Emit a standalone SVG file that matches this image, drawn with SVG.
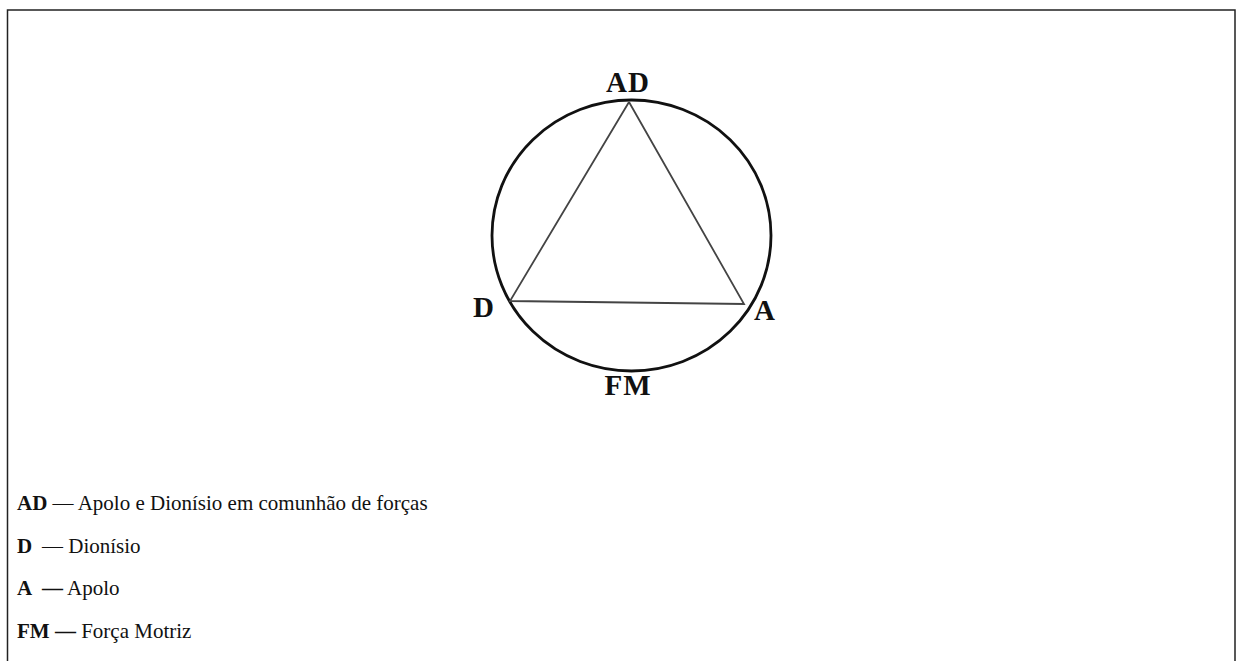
<svg xmlns="http://www.w3.org/2000/svg" width="1239" height="661" viewBox="0 0 1239 661">
<style>
.lbl{font-family:"Liberation Serif","Times New Roman",serif;font-weight:bold;font-size:29px;fill:#111;letter-spacing:1px;}
.leg{font-family:"Liberation Serif","Times New Roman",serif;font-size:21px;fill:#111;}
.legb{font-weight:bold;}
</style>
<rect x="0" y="0" width="1239" height="661" fill="#fff"/>
<path d="M7.5,661 V10 H1235 V661" fill="none" stroke="#222" stroke-width="1.5"/>
<g id="circle">
<ellipse cx="631.5" cy="235.5" rx="139.5" ry="135.5" fill="none" stroke="#111" stroke-width="2.8"/>
</g>
<g id="connectors">
<polyline points="629,102 510,301 744,304 629,102" fill="none" stroke="#444" stroke-width="1.8"/>
</g>
<g id="node-AD"><text class="lbl" x="628" y="92" text-anchor="middle">AD</text></g>
<g id="node-D"><text class="lbl" x="484" y="317" text-anchor="middle">D</text></g>
<g id="node-A"><text class="lbl" x="765" y="320" text-anchor="middle">A</text></g>
<g id="node-FM"><text class="lbl" x="628" y="395" text-anchor="middle">FM</text></g>
<g id="legend">
<text class="leg" x="17" y="510"><tspan class="legb">AD</tspan> — Apolo e Dionísio em comunhão de forças</text>
<text class="leg" y="553"><tspan class="legb" x="17">D</tspan><tspan x="42">— Dionísio</tspan></text>
<text class="leg" y="595"><tspan class="legb" x="17">A</tspan><tspan class="legb" x="42">—</tspan> Apolo</text>
<text class="leg" x="17" y="638"><tspan class="legb">FM —</tspan> Força Motriz</text>
</g>
</svg>
